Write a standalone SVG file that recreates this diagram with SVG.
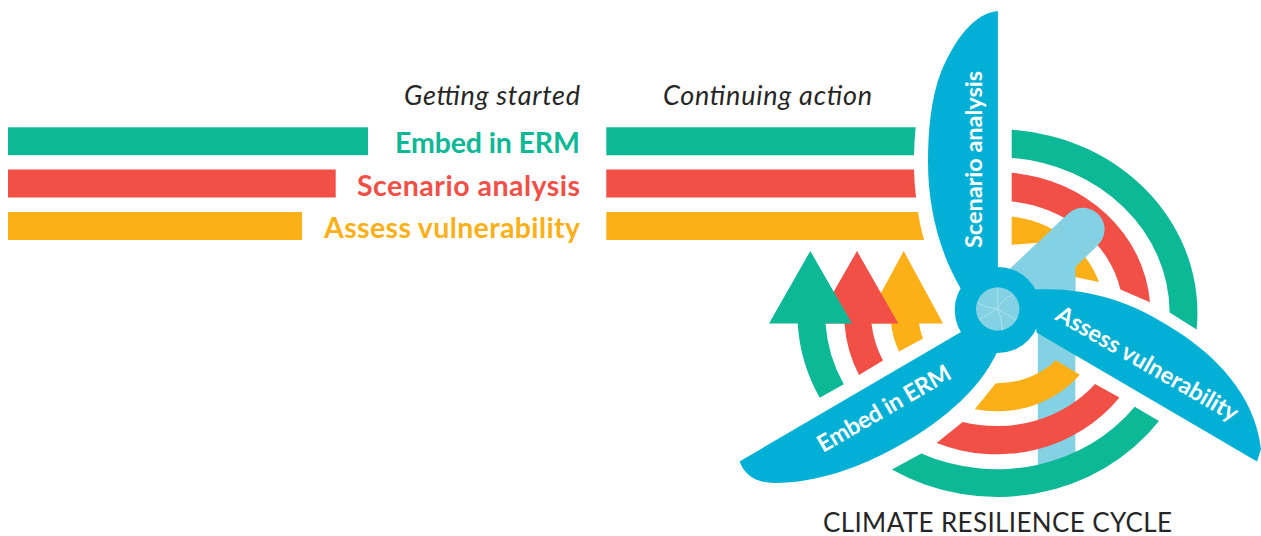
<svg xmlns="http://www.w3.org/2000/svg" width="1261" height="536" viewBox="0 0 1261 536">
<style>
.g{fill:#0DB896}.r{fill:#F24F47}.y{fill:#FBB017}.b{fill:#02B0D6}.l{fill:#84D1E4}
text{font-family:"Lato","Liberation Sans",sans-serif}
.it{font-style:italic;font-size:27px;fill:#262626}
.lab{font-weight:700;font-size:28.5px}
.bl{font-weight:700;font-size:23.5px;fill:#fff}
.sp{fill:none;stroke:#BCE6F0;stroke-width:.7}
</style>
<rect width="1261" height="536" fill="#fff"/>
<g id="header">
<text class="it" x="580" y="105" text-anchor="end" textLength="176">Getting started</text>
<text class="it" x="663" y="105" textLength="209">Continuing action</text>
</g>
<g id="bars-getting-started">
<rect class="g" x="8" y="127.3" width="360" height="27.9"/>
<rect class="r" x="8" y="169.5" width="327.7" height="28"/>
<rect class="y" x="8" y="212" width="294" height="28"/>
</g>
<g id="labels">
<text class="lab" x="395" y="153" fill="#0DB896" textLength="185">Embed in ERM</text>
<text class="lab" x="357" y="196" fill="#F24F47" textLength="223">Scenario analysis</text>
<text class="lab" x="324" y="238" fill="#FBB017" textLength="256">Assess vulnerability</text>
</g>
<g id="bars-continuing">
<path class="g" d="M606.3 127.3H915.6Q914.3 141 914 155.2H606.3Z"/>
<path class="r" d="M606.3 169.5H914Q914.4 184 916 197.5H606.3Z"/>
<path class="y" d="M606.3 212H918Q920 226 924 240H606.3Z"/>
</g>
<g id="shaft">
<path class="l" d="M1000 278L1068.6 213.3A21.5 21.5 0 0 1 1097.4 245.5L1075.4 267V475H1037.8V300Z"/>
</g>
<g id="cycle-arrows">
<path id="arrow-yellow" class="y" d="M903.7 251L943 323.5H919A78.5 69 0 0 0 923 338.4L899 351.5A106.5 98 0 0 1 891 323.5H864.5Z"/>
<path id="arrow-red" class="r" d="M857 251L898.3 323.5H871.5A126 112 0 0 0 883 360.6L859 375A153 141 0 0 1 844.5 323.5H815.5Z"/>
<path id="arrow-green" class="g" d="M810.3 251L852 323.5H825.5A172 155.5 0 0 0 843.8 384.2L819.7 397.7A200 183.5 0 0 1 797.7 323.5H769Z"/>
</g>
<g id="cycle-arcs">
<path class="g" d="M1011.7 129.7A200 183.5 0 0 1 1196.6 329.6L1169.6 312.4A172 155.5 0 0 0 1011.7 158Z"/>
<path class="r" d="M1011.7 172.7A153 141 0 0 1 1150 302.3L1120.4 289.5A126 112 0 0 0 1011.7 201.5Z"/>
<path class="y" d="M1011.7 216.4A106.5 98 0 0 1 1099 282L1075 277V240L1011.7 244.8Z"/>
<path class="y" d="M1055.8 360.3L1079.8 374.8A106.5 98 0 0 1 974.8 409.2L995.8 383.2A78.5 69 0 0 0 1055.8 360.3Z"/>
<path class="r" d="M1095 383.9L1119.4 397.4A153 141 0 0 1 936.6 443L962.6 422A126 112 0 0 0 1095 383.9Z"/>
<path class="g" d="M1134.7 406.8L1159 421A200 183.5 0 0 1 891.9 469.6L921.3 453.4A172 155.5 0 0 0 1134.7 406.8Z"/>
</g>
<path class="l" d="M1068.6 213.3A21.5 21.5 0 0 1 1097.4 245.5L1075.4 267V290H1020V260Z"/>
<g id="turbine">
<path class="b" d="M997.9 11C975 13 955 38 941 72C931 98 928 130 928 162C928 205 938 250 961 289L997.9 300Z"/>
<path class="b" d="M739.5 461.5L961 332L1000 345C985 385 945 420 900 445C860 468 815 483 775 483C755 483 745 475 739.5 461.5Z"/>
<path class="b" d="M1034 289.5C1085 287 1130 300 1175 330C1215 355 1255 395 1261 449L1257 461.5L1036.5 332.6Z"/>
<circle class="b" cx="997.7" cy="310" r="43"/>
<circle class="l" cx="997.7" cy="309" r="21.7"/>
<path class="sp" d="M997.7 309V288.5M997.7 309Q1003 298 1012.7 295M997.7 309Q987 308 977.5 303M997.7 309L979 319.5M997.7 309Q1002 318 1002.7 330.5M997.7 309L1016 320"/>
</g>
<g id="blade-labels">
<text class="bl" transform="translate(982 248) rotate(-90)" textLength="177">Scenario analysis</text>
<text class="bl" transform="translate(1054 319) rotate(30)" textLength="206">Assess vulnerability</text>
<text class="bl" transform="translate(823 453) rotate(-30)" textLength="150">Embed in ERM</text>
</g>
<text id="title" x="823" y="532" font-size="26" fill="#262626" textLength="349">CLIMATE RESILIENCE CYCLE</text>
</svg>
